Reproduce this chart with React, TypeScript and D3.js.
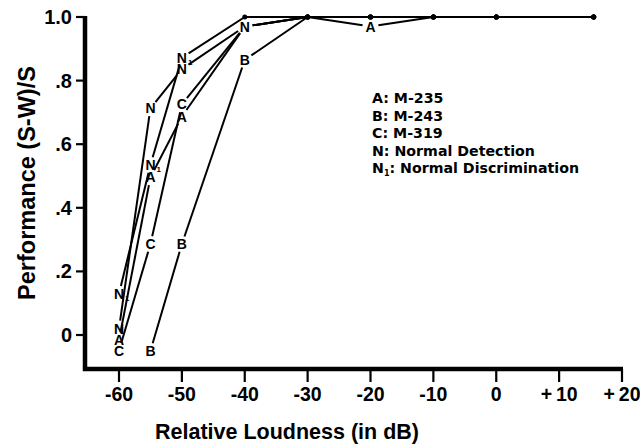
import React from "react";
import * as d3 from "d3";

const xTickValues = [-60, -50, -40, -30, -20, -10, 0, 10, 20];
const xTickLabels = ["-60", "-50", "-40", "-30", "-20", "-10", "0", "+\u200910", "+\u200920"];
const yTickValues = [0, 0.2, 0.4, 0.6, 0.8, 1.0];
const yTickLabels = ["0", ".2", ".4", ".6", ".8", "1.0"];

const seriesKeys = ["N", "N1", "A", "B", "C"];
const loudnessN = [-60, -55, -50, -40, -30, -20, -10, 0, 15.5];
const performanceN = [0.02, 0.713, 0.836, 0.97, 1, 1, 1, 1, 1];
const loudnessN1 = [-60, -55, -50, -40, -30, -20, -10, 0, 15.5];
const performanceN1 = [0.13, 0.535, 0.872, 1, 1, 1, 1, 1, 1];
const loudnessA = [-60, -55, -50, -40, -30, -20, -10, 0, 15.5];
const performanceA = [-0.016, 0.496, 0.687, 0.97, 1, 0.97, 1, 1, 1];
const loudnessB = [-55, -50, -40, -30, -20, -10, 0, 15.5];
const performanceB = [-0.05, 0.286, 0.865, 1, 1, 1, 1, 1];
const loudnessC = [-60, -55, -50, -40, -30, -20, -10, 0, 15.5];
const performanceC = [-0.049, 0.286, 0.725, 0.97, 1, 1, 1, 1, 1];

const legendKeys = ["A", "B", "C", "N", "N1"];
const legendNames = ["M-235", "M-243", "M-319", "Normal Detection", "Normal Discrimination"];

const xLabel = "Relative Loudness (in dB)";
const yLabel = "Performance (S-W)/S";

const FONT = "'Liberation Sans', Arial, Helvetica, sans-serif";
const LEGEND_FONT = "'DejaVu Sans', sans-serif";

export default function App() {
  const W = 640, H = 445;
  const x = d3.scaleLinear().domain([-60, 20]).range([119, 622]);
  const y = d3.scaleLinear().domain([0, 1]).range([335, 17]);
  const axisX = 85, axisY = 369;

  const loud = [loudnessN, loudnessN1, loudnessA, loudnessB, loudnessC];
  const perf = [performanceN, performanceN1, performanceA, performanceB, performanceC];

  const series = seriesKeys.map((k, i) => ({
    key: k,
    pts: loud[i].map((l, j) => ({ px: x(l), py: y(perf[i][j]), labeled: perf[i][j] < 0.995 })),
  }));

  const segs: any[] = [];
  const labels: any[] = [];
  const dots: any[] = [];
  const GAP = 8;
  series.forEach((s) => {
    for (let j = 0; j < s.pts.length - 1; j++) {
      const p = s.pts[j], q = s.pts[j + 1];
      const dx = q.px - p.px, dy = q.py - p.py;
      const len = Math.hypot(dx, dy);
      const ux = dx / len, uy = dy / len;
      const g1 = p.labeled ? GAP : 0, g2 = q.labeled ? GAP : 0;
      segs.push({ x1: p.px + ux * g1, y1: p.py + uy * g1, x2: q.px - ux * g2, y2: q.py - uy * g2 });
    }
    s.pts.forEach((p) => {
      if (p.labeled) {
        if (!labels.some((l) => Math.hypot(l.px - p.px, l.py - p.py) < 3)) labels.push({ ...p, key: s.key });
      } else {
        dots.push(p);
      }
    });
  });

  const renderMark = (key: string, px: number, py: number, i: number) => {
    if (key === "N1") {
      return (
        <g key={i}>
          <text x={px} y={py + 5} textAnchor="middle" fontSize={14} fontWeight="bold" fontFamily={FONT}>N</text>
          <text x={px + 6} y={py + 7} fontSize={8} fontWeight="bold" fontFamily={FONT}>1</text>
        </g>
      );
    }
    return (
      <text key={i} x={px} y={py + 5} textAnchor="middle" fontSize={14} fontWeight="bold" fontFamily={FONT}>{key}</text>
    );
  };

  const lineGen = d3.line<{ x: number; y: number }>().x((d) => d.x).y((d) => d.y);

  return (
    <svg width={W} height={H} style={{ position: "absolute", left: 0, top: 0, background: "#fff" }} fontFamily={FONT}>
      <rect width={W} height={H} fill="#fff" />
      {/* axes */}
      <path d={lineGen([{ x: axisX, y: y(1) - 1 }, { x: axisX, y: axisY }, { x: x(20) + 1, y: axisY }])!} fill="none" stroke="#000" strokeWidth={4.5} strokeLinejoin="miter" />
      {yTickValues.map((v, i) => (
        <g key={"yt" + i}>
          <line x1={76} x2={axisX} y1={y(v)} y2={y(v)} stroke="#000" strokeWidth={2.2} />
          <text x={72} y={y(v) + 7} textAnchor="end" fontSize={20} fontWeight="bold">{yTickLabels[i]}</text>
        </g>
      ))}
      {xTickValues.map((v, i) => (
        <g key={"xt" + i}>
          <line x1={x(v)} x2={x(v)} y1={axisY} y2={382} stroke="#000" strokeWidth={2.2} />
          <text x={x(v)} y={401} textAnchor="middle" fontSize={19.5} fontWeight="bold">{xTickLabels[i]}</text>
        </g>
      ))}
      <text x={287} y={439} textAnchor="middle" fontSize={21.5} fontWeight="bold">{xLabel}</text>
      <text transform={`translate(35,183) rotate(-90)`} textAnchor="middle" fontSize={23.5} fontWeight="bold">{yLabel}</text>

      {/* data */}
      {segs.map((s, i) => (
        <line key={"s" + i} x1={s.x1} y1={s.y1} x2={s.x2} y2={s.y2} stroke="#000" strokeWidth={2} />
      ))}
      {dots.map((d, i) => (
        <circle key={"d" + i} cx={d.px} cy={d.py} r={2.5} fill="#000" />
      ))}
      {labels.map((l, i) => renderMark(l.key, l.px, l.py, i))}

      {/* legend */}
      {legendKeys.map((k, i) => (
        <text key={"lg" + i} x={372} y={103 + i * 17.6} fontSize={14.2} fontWeight="bold" fontFamily={LEGEND_FONT}>
          {k === "N1" ? (
            <>
              N<tspan dy={3} fontSize={8}>1</tspan>
              <tspan dy={-3}>: {legendNames[i]}</tspan>
            </>
          ) : (
            `${k}: ${legendNames[i]}`
          )}
        </text>
      ))}
    </svg>
  );
}
